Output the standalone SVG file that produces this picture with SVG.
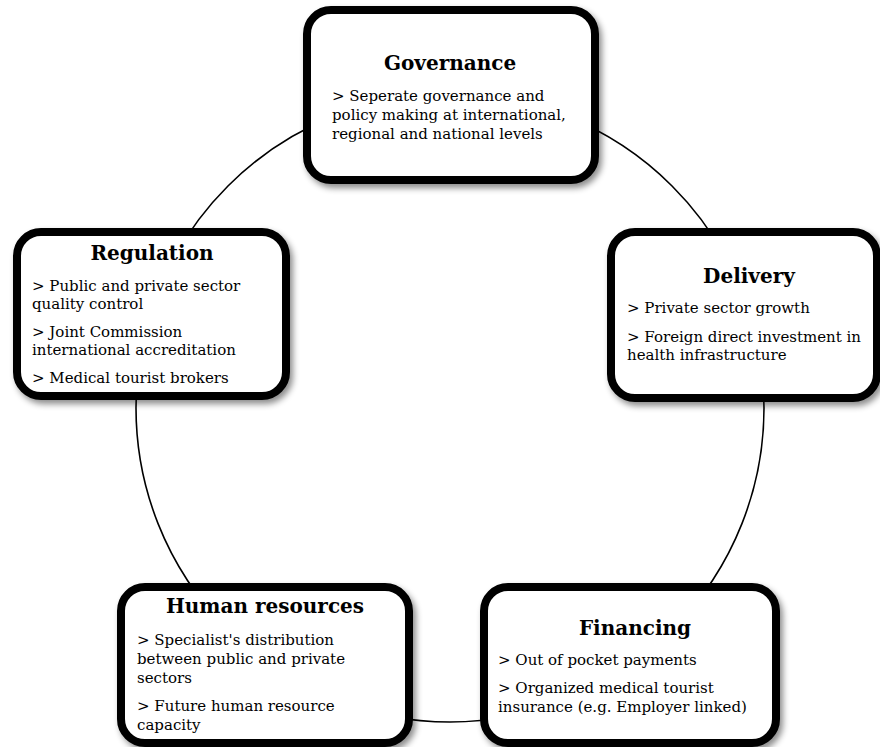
<svg xmlns="http://www.w3.org/2000/svg" width="880" height="747" viewBox="0 0 880 747">
<defs>
<filter id="sh" x="-10%" y="-10%" width="125%" height="130%">
<feDropShadow dx="3" dy="4" stdDeviation="3" flood-color="#000" flood-opacity="0.45"/>
</filter>
<style>
.box{fill:#fff;stroke:#000;stroke-width:8;filter:url(#sh)}
.t{font-family:"DejaVu Serif","Liberation Serif",serif;font-weight:bold;font-size:20px;text-anchor:middle;fill:#000}
.b{font-family:"DejaVu Serif","Liberation Serif",serif;font-size:15px;fill:#000}
.c{fill:none;stroke:#000;stroke-width:1.6}
</style>
</defs>
<rect width="880" height="747" fill="#fff"/>
<g id="connectors">
<circle class="c" cx="450" cy="408" r="314"/>
</g>
<g id="governance">
<rect class="box" x="307" y="10" width="288" height="170" rx="24"/>
<text class="t" x="450" y="70">Governance</text>
<text class="b" x="332" y="101">&gt; Seperate governance and</text>
<text class="b" x="332" y="120">policy making at international,</text>
<text class="b" x="332" y="139">regional and national levels</text>
</g>
<g id="regulation">
<rect class="box" x="17" y="232" width="269" height="164" rx="24"/>
<text class="t" x="152" y="260">Regulation</text>
<text class="b" x="32" y="291">&gt; Public and private sector</text>
<text class="b" x="32" y="309">quality control</text>
<text class="b" x="32" y="337">&gt; Joint Commission</text>
<text class="b" x="32" y="355">international accreditation</text>
<text class="b" x="32" y="383">&gt; Medical tourist brokers</text>
</g>
<g id="delivery">
<rect class="box" x="611" y="232" width="266" height="166" rx="24"/>
<text class="t" x="749" y="283">Delivery</text>
<text class="b" x="627" y="313">&gt; Private sector growth</text>
<text class="b" x="627" y="342">&gt; Foreign direct investment in</text>
<text class="b" x="627" y="360">health infrastructure</text>
</g>
<g id="human-resources">
<rect class="box" x="121" y="587" width="288" height="156" rx="24"/>
<text class="t" x="265" y="613">Human resources</text>
<text class="b" x="137" y="645">&gt; Specialist's distribution</text>
<text class="b" x="137" y="664">between public and private</text>
<text class="b" x="137" y="683">sectors</text>
<text class="b" x="137" y="711">&gt; Future human resource</text>
<text class="b" x="137" y="730">capacity</text>
</g>
<g id="financing">
<rect class="box" x="484" y="587" width="292" height="156" rx="24"/>
<text class="t" x="635" y="635">Financing</text>
<text class="b" x="498" y="665">&gt; Out of pocket payments</text>
<text class="b" x="498" y="693">&gt; Organized medical tourist</text>
<text class="b" x="498" y="712">insurance (e.g. Employer linked)</text>
</g>
</svg>
